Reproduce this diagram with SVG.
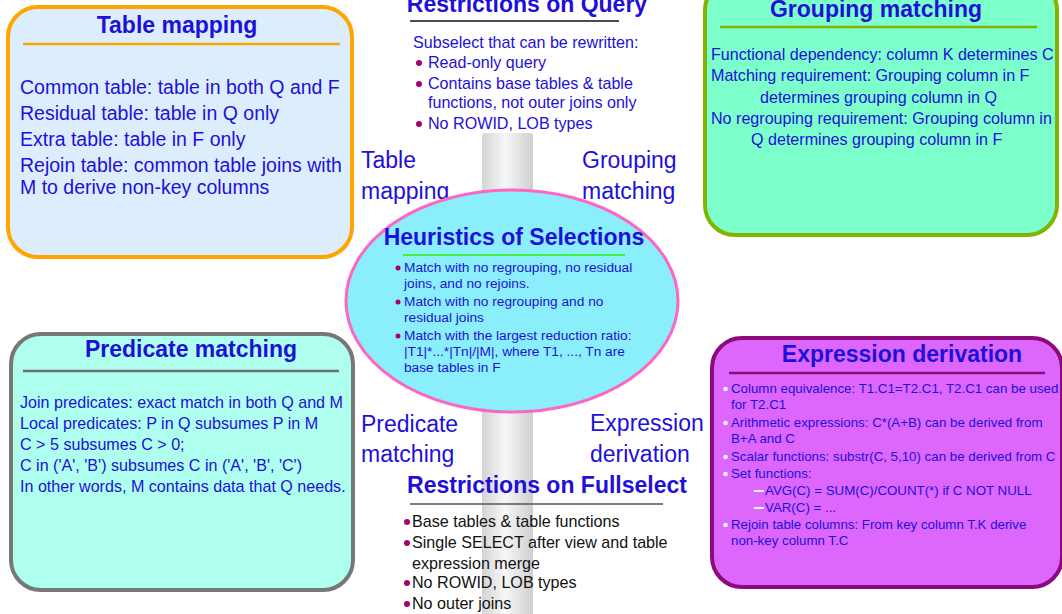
<svg xmlns="http://www.w3.org/2000/svg" width="1062" height="614" viewBox="0 0 1062 614">
<defs>
<linearGradient id="colGrad" x1="0" y1="0" x2="1" y2="0">
<stop offset="0" stop-color="#D4D4D4"/>
<stop offset="0.45" stop-color="#F7F7F7"/>
<stop offset="1" stop-color="#CFCFCF"/>
</linearGradient>
<style>
text{font-family:"Liberation Sans",Arial,Helvetica,sans-serif;fill:#1E10D8;}
.title{font-weight:bold;font-size:23px;text-anchor:middle;}
.body{font-size:19.5px;}
.mid{font-size:16.1px;}
.small{font-size:13.3px;}
.hs{font-size:13.7px;}
.lbl{font-size:23px;}
.blk{fill:#111;}
.dot{fill:#A8006F;}
.wdot{fill:#F4F4F4;}
</style>
</defs>
<rect width="1062" height="614" fill="#FFFFFF"/>

<g id="hub">
<rect x="482" y="133" width="51" height="490" rx="3" fill="url(#colGrad)"/>
</g>

<g id="connectors"></g>

<g id="table-mapping">
<rect x="8" y="7" width="344" height="250" rx="30" fill="#DCEEFD" stroke="#FFA500" stroke-width="4"/>
<text class="title" x="177" y="33">Table mapping</text>
<line x1="23" y1="44" x2="340" y2="44" stroke="#FFA500" stroke-width="2.5"/>
<text class="body" x="20" y="94">Common table: table in both Q and F</text>
<text class="body" x="20" y="120">Residual table: table in Q only</text>
<text class="body" x="20" y="146">Extra table: table in F only</text>
<text class="body" x="20" y="172">Rejoin table: common table joins with</text>
<text class="body" x="20" y="194">M to derive non-key columns</text>
</g>

<g id="grouping-matching">
<rect x="705" y="-20" width="352" height="255" rx="30" fill="#7CFFCA" stroke="#80B400" stroke-width="4"/>
<text class="title" x="876" y="17">Grouping matching</text>
<line x1="720" y1="27" x2="1037" y2="27" stroke="#80B400" stroke-width="2.5"/>
<text class="mid" x="711" y="60">Functional dependency: column K determines C</text>
<text class="mid" x="711" y="81">Matching requirement: Grouping column in F</text>
<text class="mid" x="760" y="103">determines grouping column in Q</text>
<text class="mid" x="711" y="124">No regrouping requirement: Grouping column in</text>
<text class="mid" x="751" y="145">Q determines grouping column in F</text>
</g>

<g id="predicate-matching">
<rect x="11" y="334" width="342" height="256" rx="30" fill="#AFFFEF" stroke="#777777" stroke-width="4"/>
<text class="title" x="191" y="357">Predicate matching</text>
<line x1="23" y1="371" x2="339" y2="371" stroke="#6E6E6E" stroke-width="2.5"/>
<text class="mid" x="20" y="408">Join predicates: exact match in both Q and M</text>
<text class="mid" x="20" y="429">Local predicates: P in Q subsumes P in M</text>
<text class="mid" x="20" y="450">C &gt; 5 subsumes C &gt; 0;</text>
<text class="mid" x="20" y="471">C in ('A', 'B') subsumes C in ('A', 'B', 'C')</text>
<text class="mid" x="20" y="492">In other words, M contains data that Q needs.</text>
</g>

<g id="expression-derivation">
<rect x="712" y="338" width="350" height="249" rx="30" fill="#DD66FC" stroke="#8C0A7C" stroke-width="4"/>
<text class="title" x="902" y="362">Expression derivation</text>
<line x1="729" y1="373" x2="1045" y2="373" stroke="#8C0A7C" stroke-width="2.5"/>
<circle class="wdot" cx="725.5" cy="389" r="2.3"/>
<text class="small" x="731" y="393">Column equivalence: T1.C1=T2.C1, T2.C1 can be used</text>
<text class="small" x="731" y="409">for T2.C1</text>
<circle class="wdot" cx="725.5" cy="423" r="2.3"/>
<text class="small" x="731" y="427">Arithmetic expressions: C*(A+B) can be derived from</text>
<text class="small" x="731" y="443">B+A and C</text>
<circle class="wdot" cx="725.5" cy="457" r="2.3"/>
<text class="small" x="731" y="461">Scalar functions: substr(C, 5,10) can be derived from C</text>
<circle class="wdot" cx="725.5" cy="474" r="2.3"/>
<text class="small" x="731" y="478">Set functions:</text>
<rect x="754" y="490" width="10" height="2" fill="#F4F4F4"/>
<text class="small" x="765" y="495">AVG(C) = SUM(C)/COUNT(*) if C NOT NULL</text>
<rect x="754" y="507" width="10" height="2" fill="#F4F4F4"/>
<text class="small" x="765" y="512">VAR(C) = ...</text>
<circle class="wdot" cx="725.5" cy="525" r="2.3"/>
<text class="small" x="731" y="529">Rejoin table columns: From key column T.K derive</text>
<text class="small" x="731" y="545">non-key column T.C</text>
</g>

<g id="restrictions-query">
<text class="title" x="527" y="12">Restrictions on Query</text>
<line x1="410" y1="21" x2="619" y2="21" stroke="#111" stroke-width="1.5"/>
<text class="mid" x="413" y="48">Subselect that can be rewritten:</text>
<circle class="dot" cx="419" cy="63" r="3"/>
<text class="mid" x="428" y="68">Read-only query</text>
<circle class="dot" cx="419" cy="84" r="3"/>
<text class="mid" x="428" y="89">Contains base tables &amp; table</text>
<text class="mid" x="428" y="108">functions, not outer joins only</text>
<circle class="dot" cx="419" cy="124" r="3"/>
<text class="mid" x="428" y="129">No ROWID, LOB types</text>
</g>

<g id="labels">
<text class="lbl" x="361" y="168">Table</text>
<text class="lbl" x="361" y="199">mapping</text>
<text class="lbl" x="582" y="168">Grouping</text>
<text class="lbl" x="582" y="199">matching</text>
<text class="lbl" x="361" y="432">Predicate</text>
<text class="lbl" x="361" y="462">matching</text>
<text class="lbl" x="590" y="431">Expression</text>
<text class="lbl" x="590" y="462">derivation</text>
</g>

<g id="heuristics">
<ellipse cx="512" cy="301" rx="166" ry="111" fill="#8AEEFB" stroke="#FF66C4" stroke-width="3"/>
<text class="title" x="514" y="245">Heuristics of Selections</text>
<line x1="403" y1="255" x2="625" y2="255" stroke="#44EE44" stroke-width="2"/>
<circle class="dot" cx="398" cy="268" r="2.5"/>
<text class="hs" x="404" y="272">Match with no regrouping, no residual</text>
<text class="hs" x="404" y="288">joins, and no rejoins.</text>
<circle class="dot" cx="398" cy="302" r="2.5"/>
<text class="hs" x="404" y="306">Match with no regrouping and no</text>
<text class="hs" x="404" y="322">residual joins</text>
<circle class="dot" cx="398" cy="336" r="2.5"/>
<text class="hs" x="404" y="340">Match with the largest reduction ratio:</text>
<text class="hs" x="404" y="356">|T1|*...*|Tn|/|M|, where T1, ..., Tn are</text>
<text class="hs" x="404" y="372">base tables in F</text>
</g>

<g id="restrictions-fullselect">
<text class="title" x="547" y="493">Restrictions on Fullselect</text>
<line x1="410" y1="504" x2="663" y2="504" stroke="#555" stroke-width="1.5"/>
<circle class="dot" cx="407" cy="522" r="3"/>
<text class="mid blk" x="412" y="527">Base tables &amp; table functions</text>
<circle class="dot" cx="407" cy="543" r="3"/>
<text class="mid blk" x="412" y="548">Single SELECT after view and table</text>
<text class="mid blk" x="412" y="569">expression merge</text>
<circle class="dot" cx="407" cy="583" r="3"/>
<text class="mid blk" x="412" y="588">No ROWID, LOB types</text>
<circle class="dot" cx="407" cy="604" r="3"/>
<text class="mid blk" x="412" y="609">No outer joins</text>
</g>
</svg>
